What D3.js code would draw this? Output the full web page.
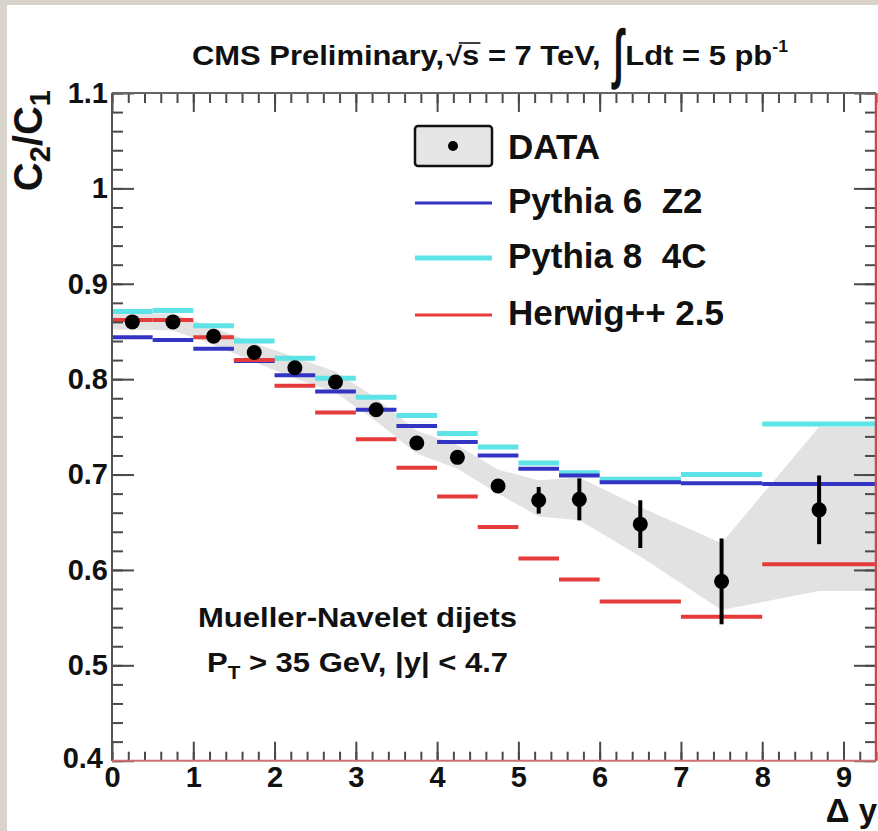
<!DOCTYPE html>
<html>
<head>
<meta charset="utf-8">
<script src="https://cdn.jsdelivr.net/npm/d3@7"></script>
<style>
  body { margin: 0; background: #d8d4cc; }
  text { font-family: "Liberation Sans", Arial, sans-serif; font-weight: bold; fill: #111; }
</style>
</head>
<body>
<div id="chart"></div>
<script>
// bins of delta y
let binLo = [0, 0.5, 1, 1.5, 2, 2.5, 3, 3.5, 4, 4.5, 5, 5.5, 6, 7, 8];
let binHi = [0.5, 1, 1.5, 2, 2.5, 3, 3.5, 4, 4.5, 5, 5.5, 6, 7, 8, 9.4];
let binMid = [0.25, 0.75, 1.25, 1.75, 2.25, 2.75, 3.25, 3.75, 4.25, 4.75, 5.25, 5.75, 6.5, 7.5, 8.7];

// measured C2/C1 with stat errors and systematic band
let dataVal = [0.860, 0.860, 0.845, 0.828, 0.812, 0.797, 0.768, 0.733, 0.718, 0.688, 0.673, 0.674, 0.648, 0.588, 0.663];
let dataErr = [0.003, 0.003, 0.003, 0.003, 0.003, 0.004, 0.004, 0.005, 0.006, 0.007, 0.014, 0.022, 0.025, 0.045, 0.036];
let bandLo = [0.852, 0.851, 0.836, 0.818, 0.801, 0.786, 0.756, 0.722, 0.706, 0.680, 0.656, 0.652, 0.614, 0.558, 0.578];
let bandHi = [0.868, 0.869, 0.854, 0.838, 0.823, 0.808, 0.780, 0.746, 0.731, 0.705, 0.694, 0.697, 0.666, 0.628, 0.750];

// MC predictions
let py6Val = [0.844, 0.841, 0.832, 0.819, 0.804, 0.787, 0.768, 0.751, 0.734, 0.720, 0.706, 0.699, 0.692, 0.691, 0.690];
let py6Err = [0, 0, 0, 0, 0, 0, 0, 0, 0, 0, 0, 0.002, 0.003, 0.012, 0.018];
let py8Val = [0.871, 0.872, 0.856, 0.840, 0.822, 0.801, 0.781, 0.762, 0.743, 0.729, 0.712, 0.702, 0.695, 0.700, 0.753];
let py8Err = [0, 0, 0, 0, 0, 0, 0, 0, 0, 0, 0, 0.003, 0.004, 0.015, 0.042];
let hwVal = [0.862, 0.862, 0.844, 0.820, 0.793, 0.765, 0.737, 0.707, 0.677, 0.645, 0.612, 0.590, 0.567, 0.551, 0.606];
let hwErr = [0, 0, 0, 0, 0, 0, 0, 0, 0, 0, 0, 0.002, 0.003, 0.007, 0.036];

// tick labels
let xTickVals = [0, 1, 2, 3, 4, 5, 6, 7, 8, 9];
let xTickLabels = ["0", "1", "2", "3", "4", "5", "6", "7", "8", "9"];
let yTickVals = [0.4, 0.5, 0.6, 0.7, 0.8, 0.9, 1.0, 1.1];
let yTickLabels = ["0.4", "0.5", "0.6", "0.7", "0.8", "0.9", "1", "1.1"];

let svgWidth = 878;
let svgHeight = 831;

// frame position in pixels
let frame = { left: 112, right: 876, top: 93, bottom: 760.7 };

let svg = d3.select("#chart")
  .append("svg")
  .attr("width", svgWidth)
  .attr("height", svgHeight);

// textured border and white pad
svg.append("rect").attr("width", svgWidth).attr("height", svgHeight).attr("fill", "#d8d4cc");
svg.append("rect").attr("x", 7).attr("y", 5).attr("width", svgWidth - 7).attr("height", svgHeight - 5).attr("fill", "#fff");

let x = d3.scaleLinear().domain([0, 9.4]).range([frame.left, frame.right]);
let y = d3.scaleLinear().domain([0.4, 1.1]).range([frame.bottom, frame.top]);

let plot = svg.append("g");

// systematic band, straight segments through bin centres, flat out to the edges
let bandX = [0].concat(binMid, [9.4]);
let bandL = [bandLo[0]].concat(bandLo, [bandLo[bandLo.length - 1]]);
let bandH = [bandHi[0]].concat(bandHi, [bandHi[bandHi.length - 1]]);
let area = d3.area()
  .x((d, i) => x(bandX[i]))
  .y0((d, i) => y(bandL[i]))
  .y1((d, i) => y(bandH[i]));
plot.append("path")
  .attr("d", area(bandX))
  .attr("fill", "#e2e2e2");

// MC histograms with stat error bars
function drawHist(vals, errs, color, width) {
  let g = plot.append("g");
  g.selectAll("line.h")
    .data(vals)
    .enter()
    .append("line")
    .attr("x1", (d, i) => x(binLo[i]))
    .attr("x2", (d, i) => x(binHi[i]))
    .attr("y1", d => y(d))
    .attr("y2", d => y(d))
    .attr("stroke", color)
    .attr("stroke-width", width);
  g.selectAll("line.e")
    .data(vals)
    .enter()
    .filter((d, i) => errs[i] > 0)
    .append("line")
    .attr("x1", (d, i) => x(binMid[i]))
    .attr("x2", (d, i) => x(binMid[i]))
    .attr("y1", (d, i) => y(d - errs[i]))
    .attr("y2", (d, i) => y(d + errs[i]))
    .attr("stroke", color)
    .attr("stroke-width", width);
}
drawHist(py8Val, py8Err, "#5ee4e6", 5);
drawHist(py6Val, py6Err, "#3434c4", 4);
drawHist(hwVal, hwErr, "#e63b3b", 4);

// data points
let pts = plot.append("g");
pts.selectAll("line")
  .data(dataVal)
  .enter()
  .append("line")
  .attr("x1", (d, i) => x(binMid[i]))
  .attr("x2", (d, i) => x(binMid[i]))
  .attr("y1", (d, i) => y(d - dataErr[i]))
  .attr("y2", (d, i) => y(d + dataErr[i]))
  .attr("stroke", "#000")
  .attr("stroke-width", 4);
pts.selectAll("circle")
  .data(dataVal)
  .enter()
  .append("circle")
  .attr("cx", (d, i) => x(binMid[i]))
  .attr("cy", d => y(d))
  .attr("r", 7.5)
  .attr("fill", "#000");

// axes, ROOT style ticks pointing inwards
let xMinor = d3.range(0, 9.41, 0.2);
let yMinor = d3.range(0.4, 1.101, 0.02);

function styleAxis(g) {
  g.select(".domain").remove();
  g.selectAll(".tick line").attr("stroke", "#4a4a4a").attr("stroke-width", 2);
}
function styleLabels(g) {
  g.selectAll("text").attr("font-size", 29).attr("fill", "#111")
    .attr("font-family", "Liberation Sans, Arial, sans-serif").attr("font-weight", "bold");
}

svg.append("g")
  .attr("transform", `translate(0, ${frame.bottom})`)
  .call(d3.axisBottom(x).tickValues(xMinor).tickSize(-9).tickFormat(""))
  .call(styleAxis);
svg.append("g")
  .attr("transform", `translate(0, ${frame.bottom})`)
  .call(d3.axisBottom(x).tickValues(xTickVals).tickSize(-19).tickPadding(6)
    .tickFormat((d, i) => xTickLabels[i]))
  .call(styleAxis)
  .call(styleLabels);

svg.append("g")
  .attr("transform", `translate(0, ${frame.top})`)
  .call(d3.axisTop(x).tickValues(xMinor).tickSize(-10).tickFormat(""))
  .call(styleAxis);
svg.append("g")
  .attr("transform", `translate(0, ${frame.top})`)
  .call(d3.axisTop(x).tickValues(xTickVals).tickSize(-19).tickFormat(""))
  .call(styleAxis);

svg.append("g")
  .attr("transform", `translate(${frame.left}, 0)`)
  .call(d3.axisLeft(y).tickValues(yMinor).tickSize(-11).tickFormat(""))
  .call(styleAxis);
let leftAxis = svg.append("g")
  .attr("transform", `translate(${frame.left}, 0)`)
  .call(d3.axisLeft(y).tickValues(yTickVals).tickSize(-22).tickPadding(4)
    .tickFormat((d, i) => yTickLabels[i]))
  .call(styleAxis)
  .call(styleLabels);
// keep the bottom y label clear of the x "0"
leftAxis.selectAll(".tick text").filter(d => d === 0.4).attr("dx", -5).attr("dy", "0.25em");

svg.append("g")
  .attr("transform", `translate(${frame.right}, 0)`)
  .call(d3.axisRight(y).tickValues(yMinor).tickSize(-11).tickFormat(""))
  .call(styleAxis);
svg.append("g")
  .attr("transform", `translate(${frame.right}, 0)`)
  .call(d3.axisRight(y).tickValues(yTickVals).tickSize(-22).tickFormat(""))
  .call(styleAxis);

// frame lines
svg.append("line").attr("x1", frame.left).attr("x2", frame.left).attr("y1", frame.top).attr("y2", frame.bottom)
  .attr("stroke", "#555").attr("stroke-width", 2);
svg.append("line").attr("x1", frame.left).attr("x2", frame.right).attr("y1", frame.top).attr("y2", frame.top)
  .attr("stroke", "#666").attr("stroke-width", 2);
svg.append("line").attr("x1", frame.left).attr("x2", frame.right).attr("y1", frame.bottom).attr("y2", frame.bottom)
  .attr("stroke", "#d07070").attr("stroke-width", 2);
svg.append("line").attr("x1", frame.right).attr("x2", frame.right).attr("y1", frame.top).attr("y2", frame.bottom)
  .attr("stroke", "#c84a4a").attr("stroke-width", 2.5);

// legend
let legend = svg.append("g");
let legX = 415, legX2 = 492, legText = 508;
legend.append("rect")
  .attr("x", legX).attr("y", 126).attr("width", legX2 - legX).attr("height", 40)
  .attr("rx", 3)
  .attr("fill", "#e6e6e6").attr("stroke", "#111").attr("stroke-width", 2.5);
legend.append("circle").attr("cx", 453).attr("cy", 146).attr("r", 5).attr("fill", "#000");
legend.append("text").attr("x", legText).attr("y", 159).attr("font-size", 35).text("DATA");

let legRows = [
  { label: "Pythia 6\u00a0 Z2", color: "#3434c4", w: 3, y: 203 },
  { label: "Pythia 8\u00a0 4C", color: "#5ee4e6", w: 5, y: 258 },
  { label: "Herwig++ 2.5", color: "#e63b3b", w: 3, y: 315 }
];
legRows.forEach(function(r) {
  legend.append("line").attr("x1", legX).attr("x2", legX2).attr("y1", r.y).attr("y2", r.y)
    .attr("stroke", r.color).attr("stroke-width", r.w);
  legend.append("text").attr("x", legText).attr("y", r.y + 10).attr("font-size", 35).text(r.label);
});

// title pieces laid out one after another, then squeezed to the measured width
let title = svg.append("g");
let cx = 0;
function piece(txt, size, dy, gap) {
  let t = title.append("text")
    .attr("x", cx).attr("y", 65 + (dy || 0))
    .attr("font-size", size)
    .text(txt);
  let w = t.node().getComputedTextLength();
  let r = { x0: cx, w: w, node: t };
  cx += w + (gap || 0);
  return r;
}
piece("CMS Preliminary,", 28, 0, 2);
let root = piece("\u221a", 26, 0, 0);
root.node.attr("font-family", "DejaVu Sans").attr("font-weight", "normal");
let sPart = piece("s", 28, 0, 0);
piece("\u00a0= 7 TeV,\u00a0", 28, 0, 4);
// tall thin integral sign
let integ = title.append("text")
  .attr("transform", `translate(${cx}, 75) scale(0.75, 1.55)`)
  .attr("font-family", "DejaVu Sans").attr("font-weight", "normal")
  .attr("font-size", 42)
  .text("\u222b");
cx += integ.node().getComputedTextLength() * 0.75 + 2;
piece("Ldt = 5 pb", 28);
piece("-1", 16, -13);
title.append("line")
  .attr("x1", root.x0 + root.w - 3).attr("x2", sPart.x0 + sPart.w + 1)
  .attr("y1", 43).attr("y2", 43)
  .attr("stroke", "#111").attr("stroke-width", 1.6);
let titleW = cx;
title.attr("transform", `translate(192, 0) scale(${596 / titleW}, 1)`);

// axis titles
let yTitle = svg.append("text")
  .attr("transform", "translate(42, 90) rotate(-90)")
  .attr("text-anchor", "end")
  .attr("font-size", 40);
yTitle.append("tspan").text("C");
yTitle.append("tspan").attr("font-size", 29).attr("dy", 8).text("2");
yTitle.append("tspan").attr("dy", -8).text("/C");
yTitle.append("tspan").attr("font-size", 29).attr("dy", 8).text("1");

svg.append("text")
  .attr("x", 877).attr("y", 822)
  .attr("text-anchor", "end")
  .attr("font-size", 33)
  .text("\u0394 y");

// annotation
svg.append("text")
  .attr("x", 198).attr("y", 627)
  .attr("font-size", 27)
  .attr("textLength", 319).attr("lengthAdjust", "spacingAndGlyphs")
  .text("Mueller-Navelet dijets");
let ann = svg.append("text")
  .attr("x", 207).attr("y", 672)
  .attr("font-size", 27)
  .attr("textLength", 301).attr("lengthAdjust", "spacingAndGlyphs");
ann.append("tspan").text("P");
ann.append("tspan").attr("font-size", 18).attr("dy", 7).text("T");
ann.append("tspan").attr("dy", -7).text(" > 35 GeV, |y| < 4.7");
</script>
</body>
</html>
